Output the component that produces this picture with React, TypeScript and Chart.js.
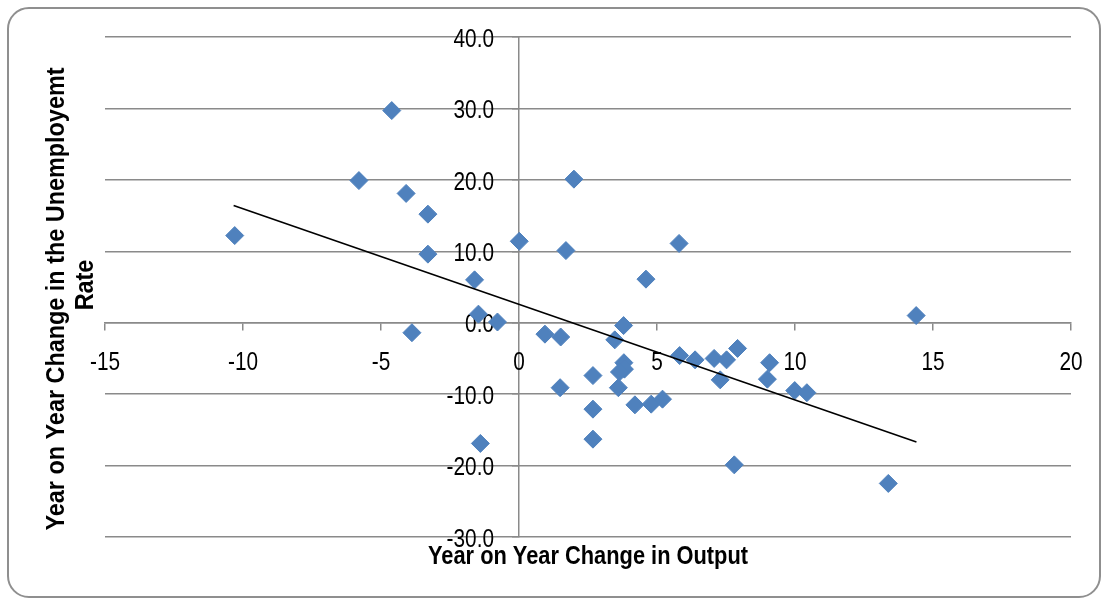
import React, { useEffect, useRef } from "react";
import { Chart, registerables } from "chart.js";

Chart.register(...registerables);

// Year on Year Change in Output (x) vs Year on Year Change in the Unemployment Rate (y)
const outputChange: number[] = [
  -10.3, -4.61, -5.8, -4.09, -3.3, -3.3, -1.61, -1.47, -0.78, -3.88, -1.4,
  0.01, 1.99, 1.7, 0.94, 1.51, 1.49, 2.68, 2.68, 2.68, 3.47, 3.79, 3.8, 3.82,
  3.64, 3.6, 4.2, 4.6, 4.79, 5.2, 5.8, 5.82, 6.38, 7.07, 7.52, 7.29, 7.92,
  7.8, 9.08, 9.0, 9.99, 10.43, 13.38, 14.39,
];
const unemploymentChange: number[] = [
  12.2, 29.7, 19.9, 18.1, 15.2, 9.6, 6.0, 1.2, 0.1, -1.4, -16.9,
  11.4, 20.1, 10.1, -1.6, -2.0, -9.1, -7.4, -12.1, -16.3, -2.4, -0.4, -5.6, -6.5,
  -6.9, -9.1, -11.5, 6.1, -11.4, -10.7, 11.1, -4.6, -5.2, -5.0, -5.2, -8.0, -3.6,
  -19.9, -5.6, -7.9, -9.5, -9.8, -22.5, 1.0,
];
// Linear trend line end points
const trendX: number[] = [-10.34, 14.4];
const trendY: number[] = [16.4, -16.7];

const xTitle = "Year on Year Change in Output";
const yTitleLines = ["Year on Year Change in the Unemployemt", "Rate"];

const FONT = "'Liberation Sans', Arial, sans-serif";
const TICK_SIZE = 26;
const TICK_SQUEEZE = 0.8;

function narrowText(
  ctx: CanvasRenderingContext2D,
  text: string,
  x: number,
  y: number,
  align: CanvasTextAlign,
  sx: number,
  rotate = 0
) {
  ctx.save();
  ctx.translate(x, y);
  if (rotate) ctx.rotate(rotate);
  ctx.scale(sx, 1);
  ctx.textAlign = align;
  ctx.textBaseline = "middle";
  ctx.fillText(text, 0, 0);
  ctx.restore();
}

export default function App() {
  const ref = useRef<HTMLCanvasElement | null>(null);

  useEffect(() => {
    document.body.style.margin = "0";
    const canvas = ref.current;
    if (!canvas) return;

    const labels = {
      id: "narrowLabels",
      beforeDatasetsDraw(chart: any) {
        const ctx: CanvasRenderingContext2D = chart.ctx;
        const xs = chart.scales.x;
        const ys = chart.scales.y;
        const x0 = xs.getPixelForValue(0);
        const y0 = ys.getPixelForValue(0);
        ctx.save();
        ctx.fillStyle = "#000";
        ctx.font = `${TICK_SIZE}px ${FONT}`;
        xs.ticks.forEach((t: any) => {
          narrowText(ctx, String(t.value), xs.getPixelForValue(t.value), y0 + 40, "center", TICK_SQUEEZE);
        });
        ys.ticks.forEach((t: any) => {
          narrowText(ctx, Number(t.value).toFixed(1), x0 - 25, ys.getPixelForValue(t.value) + 2.5, "right", TICK_SQUEEZE);
        });
        ctx.restore();
      },
      afterDraw(chart: any) {
        const ctx: CanvasRenderingContext2D = chart.ctx;
        const area = chart.chartArea;
        ctx.save();
        ctx.fillStyle = "#000";
        ctx.font = `bold 25px ${FONT}`;
        const wx = ctx.measureText(xTitle).width;
        narrowText(ctx, xTitle, (area.left + area.right) / 2, 557, "center", 320 / wx);
        const w1 = ctx.measureText(yTitleLines[0]).width;
        const sy = 463 / w1;
        narrowText(ctx, yTitleLines[0], 57, 299, "center", sy, -Math.PI / 2);
        narrowText(ctx, yTitleLines[1], 86, 285, "center", sy, -Math.PI / 2);
        ctx.restore();
      },
    };

    const points = outputChange.map((x, i) => ({ x, y: unemploymentChange[i] }));
    const trend = trendX.map((x, i) => ({ x, y: trendY[i] }));
    const gridColor = "#8a8a8a";

    const chart = new Chart(canvas, {
      type: "scatter",
      data: {
        datasets: [
          {
            label: "Trend",
            data: trend,
            showLine: true,
            borderColor: "#000",
            borderWidth: 1.6,
            pointRadius: 0,
            pointHoverRadius: 0,
          },
          {
            label: "Data",
            data: points,
            pointStyle: "rectRot",
            pointRadius: 9,
            pointHoverRadius: 9,
            backgroundColor: "#4f81bd",
            borderColor: "#4f81bd",
            borderWidth: 1,
          },
        ],
      },
      options: {
        responsive: false,
        animation: false,
        events: [],
        layout: { padding: { left: 105, top: 37, right: 31, bottom: 62 } },
        plugins: { legend: { display: false }, tooltip: { enabled: false } },
        scales: {
          x: {
            type: "linear",
            min: -15,
            max: 20,
            position: { y: 0 } as any,
            afterFit: (s: any) => {
              s.height = 0;
            },
            ticks: { stepSize: 5, display: false },
            grid: {
              drawOnChartArea: false,
              drawTicks: true,
              tickLength: 7,
              color: gridColor,
              lineWidth: 1.5,
            },
            border: { display: true, color: gridColor, width: 1.5 },
          },
          y: {
            type: "linear",
            min: -30,
            max: 40,
            position: { x: 0 } as any,
            afterFit: (s: any) => {
              s.width = 0;
            },
            ticks: { stepSize: 10, display: false },
            grid: {
              color: gridColor,
              lineWidth: 1.5,
              tickLength: 6,
            },
            border: { display: true, color: gridColor, width: 1.5 },
          },
        },
      },
      plugins: [labels],
    });

    return () => chart.destroy();
  }, []);

  return (
    <div style={{ position: "relative", width: 1102, height: 599, overflow: "hidden" }}>
      <canvas ref={ref} width={1102} height={599} style={{ display: "block" }} />
      <div
        style={{
          position: "absolute",
          left: 7,
          top: 7,
          width: 1094,
          height: 591,
          boxSizing: "border-box",
          border: "2px solid #8f8f8f",
          borderRadius: 22,
          pointerEvents: "none",
        }}
      />
    </div>
  );
}
